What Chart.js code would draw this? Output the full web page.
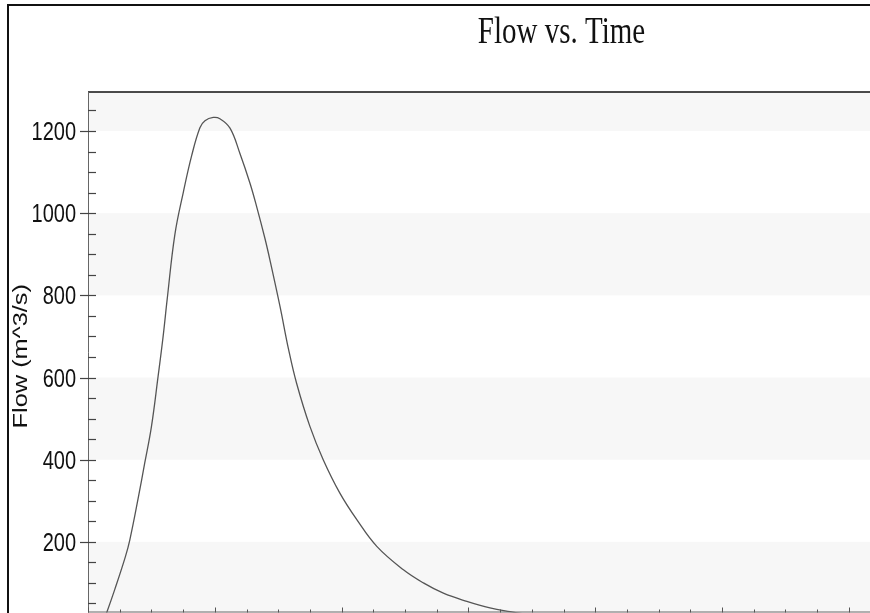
<!DOCTYPE html>
<html>
<head>
<meta charset="utf-8">
<script src="https://cdn.jsdelivr.net/npm/chart.js@4"></script>
<style>
  html, body { margin: 0; padding: 0; overflow: hidden; background: #fff; }
  #clip { position: absolute; left: 0; top: 0; width: 880px; height: 613px; overflow: hidden; }
  #border { position: absolute; left: 7px; top: 4px; width: 1200px; height: 1200px;
            border-left: 2px solid #111; border-top: 2px solid #111; }
  #wrap { position: absolute; left: 0; top: 0; width: 1045px; height: 613px; }
</style>
</head>
<body>
<div id="clip">
  <div id="border"></div>
  <div id="wrap"><canvas id="flowChart"></canvas></div>
</div>
<script>
const timeHours = [0.45, 0.60, 0.84, 1.18, 1.32, 1.58, 1.79, 2.00, 2.21, 2.37, 2.50, 2.74, 3.01, 3.27, 3.53, 3.69, 3.95, 4.16, 4.48, 4.79, 5.11, 5.32, 5.58, 5.74, 6.06, 6.32, 6.58, 7.00, 7.42, 7.95, 8.48, 9.11, 9.95, 10.58, 11.21, 11.95, 12.68, 13.31, 14.0, 15.0];
const flowValues = [0, 30, 83, 164, 205, 305, 392, 480, 602, 700, 792, 948, 1052, 1140, 1208, 1225, 1233, 1230, 1207, 1146, 1073, 1016, 939, 886, 772, 671, 586, 481, 400, 318, 254, 189, 132, 100, 75, 55, 39, 30, 22, 14];
const yTickLabels = [200, 400, 600, 800, 1000, 1200];
const yMinorStep = 50;
const xMinorStep = 1;
const xMajorEvery = 4;
const bandRanges = [[0, 200], [400, 600], [800, 1000], [1200, 1400]];

const titleText = "Flow vs. Time";
const yAxisTitle = "Flow (m^3/s)";

const frame = {
  id: "frame",
  beforeDatasetsDraw(chart) {
    const { ctx, chartArea: a, scales: { y } } = chart;
    ctx.save();
    ctx.fillStyle = "#f7f7f7";
    bandRanges.forEach(([lo, hi]) => {
      const top = Math.max(y.getPixelForValue(hi), a.top);
      const bot = Math.min(y.getPixelForValue(lo), a.bottom);
      ctx.fillRect(a.left, top, a.right - a.left, bot - top);
    });
    ctx.restore();
  },
  afterDraw(chart) {
    const { ctx, chartArea: a, scales: { x, y } } = chart;
    ctx.save();

    // plot frame
    ctx.strokeStyle = "#111";
    ctx.lineWidth = 1.6;
    ctx.beginPath();
    ctx.moveTo(a.left, a.top);
    ctx.lineTo(a.right, a.top);
    ctx.stroke();
    ctx.strokeStyle = "#666";
    ctx.lineWidth = 1;
    ctx.beginPath();
    ctx.moveTo(a.left + 0.5, a.top);
    ctx.lineTo(a.left + 0.5, a.bottom);
    ctx.moveTo(a.left, a.bottom - 0.5);
    ctx.lineTo(a.right, a.bottom - 0.5);
    ctx.stroke();

    // y ticks
    ctx.strokeStyle = "#444";
    ctx.lineWidth = 1.2;
    for (let v = Math.ceil(y.min / yMinorStep) * yMinorStep; v <= y.max; v += yMinorStep) {
      const py = Math.round(y.getPixelForValue(v)) + 0.5;
      const major = yTickLabels.includes(v);
      ctx.beginPath();
      ctx.moveTo(major ? a.left - 8 : a.left, py);
      ctx.lineTo(a.left + 8, py);
      ctx.stroke();
    }

    // x ticks
    ctx.strokeStyle = "#555";
    ctx.lineWidth = 1;
    for (let v = x.min; v <= x.max; v += xMinorStep) {
      const px = Math.round(x.getPixelForValue(v)) + 0.5;
      const h = v % xMajorEvery === 0 ? 5 : 3;
      ctx.beginPath();
      ctx.moveTo(px, a.bottom);
      ctx.lineTo(px, a.bottom - h);
      ctx.stroke();
    }

    // y tick labels (source picture is stretched vertically)
    ctx.fillStyle = "#111";
    ctx.font = "20px 'Liberation Sans', Arial, sans-serif";
    ctx.textAlign = "right";
    ctx.textBaseline = "alphabetic";
    yTickLabels.forEach((v) => {
      const py = y.getPixelForValue(v);
      ctx.save();
      ctx.translate(a.left - 12, py + 9);
      ctx.scale(1, 1.27);
      ctx.fillText(String(v), 0, 0);
      ctx.restore();
    });

    // y axis title
    ctx.save();
    ctx.translate(27, (a.top + a.bottom) / 2 + 4);
    ctx.rotate(-Math.PI / 2);
    ctx.scale(1.27, 1);
    ctx.textAlign = "center";
    ctx.fillText(yAxisTitle, 0, 0);
    ctx.restore();

    // chart title, centred over the full (cropped) plot width
    ctx.save();
    ctx.translate((a.left + a.right) / 2 - 2, 42.5);
    ctx.scale(1, 1.3);
    ctx.font = "29px 'Liberation Serif', 'Times New Roman', serif";
    ctx.textAlign = "center";
    ctx.fillText(titleText, 0, 0);
    ctx.restore();

    ctx.restore();
  },
};

const ctx = document.getElementById("flowChart").getContext("2d");
const flowChart = new Chart(ctx, {
  type: "line",
  data: {
    datasets: [
      {
        label: "Flow",
        data: timeHours.map((t, i) => ({ x: t, y: flowValues[i] })),
        borderColor: "#555555",
        borderWidth: 1.3,
        pointRadius: 0,
        fill: false,
        tension: 0.4,
      },
    ],
  },
  options: {
    responsive: true,
    maintainAspectRatio: false,
    animation: false,
    layout: { padding: { left: 88, top: 92, right: 6, bottom: 0.5 } },
    scales: {
      x: { type: "linear", min: 0, max: 30, display: false },
      y: { min: 28, max: 1295, display: false },
    },
    plugins: {
      legend: { display: false },
      tooltip: { enabled: false },
    },
  },
  plugins: [frame],
});
</script>
</body>
</html>
